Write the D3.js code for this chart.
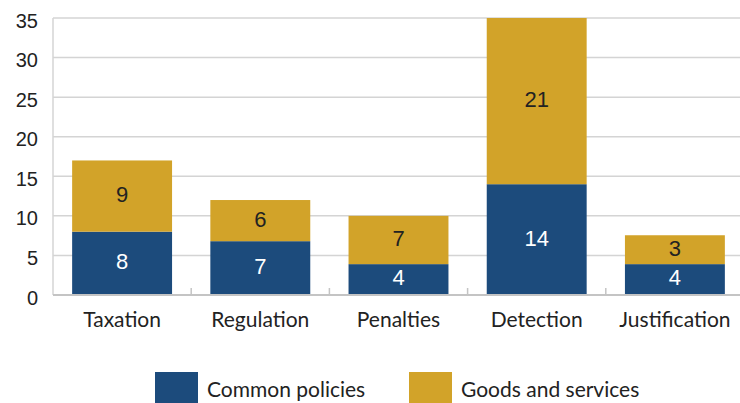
<!DOCTYPE html>
<html>
<head>
<meta charset="utf-8">
<script src="https://cdn.jsdelivr.net/npm/d3@7"></script>
<style>
  body { margin: 0; background: #fff; }
  svg { display: block; }
</style>
</head>
<body>
<svg id="chart"></svg>
<script>
const categories = ["Taxation", "Regulation", "Penalties", "Detection", "Justification"];
const seriesNames = ["Common policies", "Goods and services"];
const commonPolicies = [8, 6.8, 3.9, 14, 3.9];
const goodsServices = [9, 5.2, 6.1, 21, 3.65];
const commonLabels = ["8", "7", "4", "14", "4"];
const goodsLabels = ["9", "6", "7", "21", "3"];
const yTicks = [0, 5, 10, 15, 20, 25, 30, 35];
const colors = ["#1c4b7c", "#d2a329"];

const width = 740, height = 403;
const margin = { left: 53, right: -4, top: 18, bottom: 108 };
const svg = d3.select("#chart").attr("width", width).attr("height", height);

const x = d3.scaleBand()
  .domain(categories)
  .range([margin.left, width - margin.right])
  .paddingInner(0.277)
  .paddingOuter(0.1385);

const y = d3.scaleLinear()
  .domain([0, 35])
  .range([height - margin.bottom, margin.top]);

// gridlines
svg.append("g")
  .selectAll("line")
  .data(yTicks.slice(1))
  .enter()
  .append("line")
  .attr("x1", margin.left).attr("x2", width)
  .attr("y1", d => y(d)).attr("y2", d => y(d))
  .attr("stroke", "#d4d4d4")
  .attr("stroke-width", 1.5);

// left axis line
svg.append("line")
  .attr("x1", margin.left).attr("x2", margin.left)
  .attr("y1", y(35)).attr("y2", y(0))
  .attr("stroke", "#d4d4d4")
  .attr("stroke-width", 1.5);

// y tick labels
svg.append("g")
  .selectAll("text")
  .data(yTicks)
  .enter()
  .append("text")
  .attr("x", 38)
  .attr("y", d => y(d))
  .attr("dy", "0.48em")
  .attr("text-anchor", "end")
  .attr("font-family", "'Liberation Sans', Arial, sans-serif")
  .attr("font-size", 20)
  .attr("fill", "#222")
  .text(d => d);

// stacked bars
const rows = categories.map((c, i) => ({ cat: c, common: commonPolicies[i], goods: goodsServices[i] }));
const stack = d3.stack().keys(["common", "goods"])(rows);
const labelSets = [commonLabels, goodsLabels];
const labelColors = ["#fff", "#222"];

stack.forEach((layer, k) => {
  const g = svg.append("g");
  g.selectAll("rect")
    .data(layer)
    .enter()
    .append("rect")
    .attr("x", d => x(d.data.cat))
    .attr("width", x.bandwidth())
    .attr("y", d => y(d[1]))
    .attr("height", d => y(d[0]) - y(d[1]))
    .attr("fill", colors[k]);
  g.selectAll("text")
    .data(layer)
    .enter()
    .append("text")
    .attr("x", d => x(d.data.cat) + x.bandwidth() / 2)
    .attr("y", d => (y(d[0]) + y(d[1])) / 2 - 2)
    .attr("dy", "0.36em")
    .attr("text-anchor", "middle")
    .attr("font-family", "'Liberation Sans', Arial, sans-serif")
    .attr("font-size", 22)
    .attr("fill", labelColors[k])
    .text((d, i) => labelSets[k][i]);
});

// x axis baseline and ticks
svg.append("line")
  .attr("x1", margin.left).attr("x2", width)
  .attr("y1", y(0)).attr("y2", y(0))
  .attr("stroke", "#c4c4c4")
  .attr("stroke-width", 2);

const step = x.step();
svg.append("g")
  .selectAll("line")
  .data(categories.slice(1))
  .enter()
  .append("line")
  .attr("x1", d => x(d) - step * x.paddingInner() / 2)
  .attr("x2", d => x(d) - step * x.paddingInner() / 2)
  .attr("y1", y(0)).attr("y2", y(0) - 7)
  .attr("stroke", "#c4c4c4")
  .attr("stroke-width", 1.5);

// category labels
svg.append("g")
  .selectAll("text")
  .data(categories)
  .enter()
  .append("text")
  .attr("x", d => x(d) + x.bandwidth() / 2)
  .attr("y", 327)
  .attr("text-anchor", "middle")
  .attr("font-family", "Lato, sans-serif")
  .attr("font-size", 21)
  .attr("fill", "#222")
  .text(d => d);

// legend
const legendX = [155, 409];
const legend = svg.append("g");
seriesNames.forEach((name, i) => {
  legend.append("rect")
    .attr("x", legendX[i]).attr("y", 372)
    .attr("width", 43).attr("height", 31)
    .attr("fill", colors[i]);
  legend.append("text")
    .attr("x", legendX[i] + 52)
    .attr("y", 397)
    .attr("font-family", "Lato, sans-serif")
    .attr("font-size", 21)
    .attr("fill", "#222")
    .text(name);
});
</script>
</body>
</html>
